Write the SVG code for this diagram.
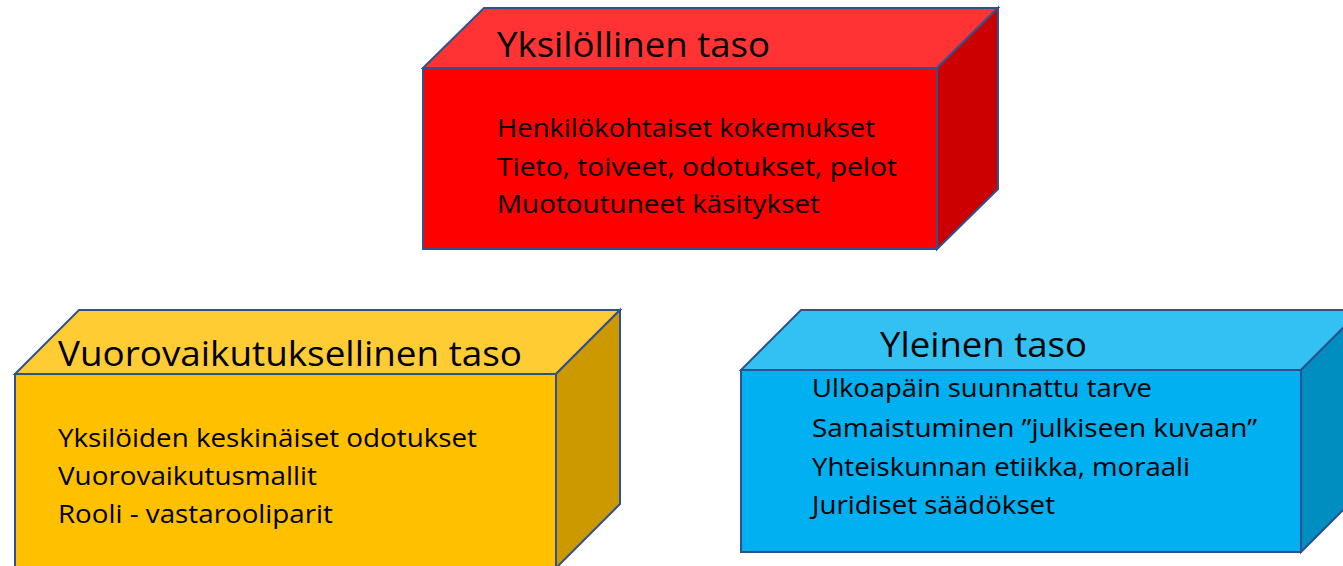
<svg xmlns="http://www.w3.org/2000/svg" width="1343" height="566" viewBox="0 0 1343 566">
<style>
  .edge { stroke: #2F528F; stroke-width: 2; stroke-linejoin: miter; }
  .title { font-family: "Open Sans", "Liberation Sans", sans-serif; font-size: 35px; fill: #000; }
  .body { font-family: "Open Sans", "Liberation Sans", sans-serif; font-size: 25.5px; fill: #000; }
  .red-front { fill: #FF0000; } .red-top { fill: #FF3333; } .red-side { fill: #CC0000; }
  .yel-front { fill: #FFC000; } .yel-top { fill: #FFCD33; } .yel-side { fill: #CC9A00; }
  .blu-front { fill: #00B0F0; } .blu-top { fill: #33C0F3; } .blu-side { fill: #008DC0; }
</style>
<rect width="1343" height="566" fill="#FFFFFF"/>
<g id="connectors"></g>

<g id="node-yksilollinen">
  <polygon class="red-top edge" points="423,68 484,8 998,8 937,68"/>
  <polygon class="red-side edge" points="937,68 998,8 998,189 937,249"/>
  <rect class="red-front edge" x="423" y="68" width="514" height="181"/>
  <text class="title" x="497" y="57" textLength="273" lengthAdjust="spacingAndGlyphs">Yksilöllinen taso</text>
  <text class="body" x="497" y="137" textLength="378" lengthAdjust="spacingAndGlyphs">Henkilökohtaiset kokemukset</text>
  <text class="body" x="497" y="176" textLength="400" lengthAdjust="spacingAndGlyphs">Tieto, toiveet, odotukset, pelot</text>
  <text class="body" x="497" y="213" textLength="323" lengthAdjust="spacingAndGlyphs">Muotoutuneet käsitykset</text>
</g>

<g id="node-vuorovaikutuksellinen">
  <polygon class="yel-top edge" points="15,374 79,310 620,310 556,374"/>
  <polygon class="yel-side edge" points="556,374 620,310 620,504 556,568"/>
  <rect class="yel-front edge" x="15" y="374" width="541" height="194"/>
  <text class="title" x="58" y="366" textLength="464" lengthAdjust="spacingAndGlyphs">Vuorovaikutuksellinen taso</text>
  <text class="body" x="58" y="447" textLength="419" lengthAdjust="spacingAndGlyphs">Yksilöiden keskinäiset odotukset</text>
  <text class="body" x="58" y="485" textLength="259" lengthAdjust="spacingAndGlyphs">Vuorovaikutusmallit</text>
  <text class="body" x="58" y="523" textLength="275" lengthAdjust="spacingAndGlyphs">Rooli - vastarooliparit</text>
</g>

<g id="node-yleinen">
  <polygon class="blu-top edge" points="741,370 801,310 1361,310 1301,370"/>
  <polygon class="blu-side edge" points="1301,370 1361,310 1361,492 1301,552"/>
  <rect class="blu-front edge" x="741" y="370" width="560" height="182"/>
  <text class="title" x="880" y="357" textLength="207" lengthAdjust="spacingAndGlyphs">Yleinen taso</text>
  <text class="body" x="812" y="397" textLength="340" lengthAdjust="spacingAndGlyphs">Ulkoapäin suunnattu tarve</text>
  <text class="body" x="812" y="437" textLength="445" lengthAdjust="spacingAndGlyphs">Samaistuminen ”julkiseen kuvaan”</text>
  <text class="body" x="812" y="476" textLength="378" lengthAdjust="spacingAndGlyphs">Yhteiskunnan etiikka, moraali</text>
  <text class="body" x="812" y="514" textLength="243" lengthAdjust="spacingAndGlyphs">Juridiset säädökset</text>
</g>
</svg>
